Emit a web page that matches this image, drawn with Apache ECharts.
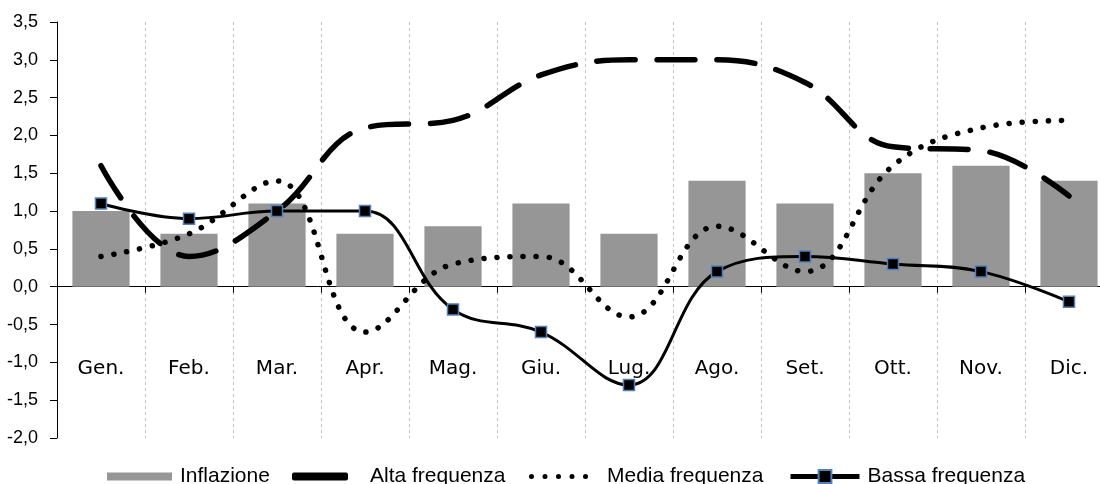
<!DOCTYPE html>
<html><head><meta charset="utf-8">
<script src="https://cdn.jsdelivr.net/npm/echarts@6/dist/echarts.min.js"></script>
<style>html,body{margin:0;padding:0;background:#fff}#c{width:1100px;height:484px}</style>
</head><body><div id="c"></div>
<script>
const categories = ['Gen.','Feb.','Mar.','Apr.','Mag.','Giu.','Lug.','Ago.','Set.','Ott.','Nov.','Dic.'];
const inflazione = [1.0, 0.7, 1.1, 0.7, 0.8, 1.1, 0.7, 1.4, 1.1, 1.5, 1.6, 1.4];
const altaFrequenza = [1.6, 0.4, 1.0, 2.1, 2.2, 2.8, 3.0, 3.0, 2.7, 1.85, 1.8, 1.2];
const mediaFrequenza = [0.4, 0.7, 1.4, -0.6, 0.3, 0.4, -0.4, 0.8, 0.2, 1.6, 2.1, 2.2];
const bassaFrequenza = [1.1, 0.9, 1.0, 1.0, -0.3, -0.6, -1.3, 0.2, 0.4, 0.3, 0.2, -0.2];
const seriesNames = ['Inflazione','Alta frequenza','Media frequenza','Bassa frequenza'];

function dots(n, step, r){
  let p = 'path://';
  for(let i=0;i<n;i++){const cx=r+i*step;p+=`M${cx-r},${r}a${r},${r} 0 1,0 ${2*r},0a${r},${r} 0 1,0 ${-2*r},0Z`;}
  return p;
}
const legTxt = {fontFamily:'Liberation Sans', fontSize:21, color:'#000'};
function leg(name, left, w, h, padL, extra){
  return Object.assign({data:[name], left:left, top:466, padding:0, itemWidth:w, itemHeight:h,
    selectedMode:false, textStyle:Object.assign({padding:[0,0,0,padL]}, legTxt)}, extra||{});
}

const chart = echarts.init(document.getElementById('c'), null, {renderer:'canvas'});
chart.setOption({
  animation:false,
  backgroundColor:'#fff',
  grid:{left:57, top:22, height:416, width:1056, containLabel:false, outerBoundsMode:'none'},
  legend:[
    leg(seriesNames[0], 107, 65, 8, 3, {icon:'rect'}),
    leg(seriesNames[1], 292, 56, 8, 17, {icon:'roundRect'}),
    leg(seriesNames[2], 529, 59, 5, 14, {icon:dots(5,13.5,2.5)}),
    leg(seriesNames[3], 788, 69, 16, 3, {lineStyle:{width:5}})
  ],
  xAxis:{
    type:'category', data:categories, boundaryGap:true,
    axisLine:{onZero:true, lineStyle:{color:'#000', width:1}},
    axisTick:{show:true, length:6, lineStyle:{color:'#000'}},
    axisLabel:{margin:-79, fontFamily:'DejaVu Sans', fontSize:20, color:'#000'},
    splitLine:{show:true, lineStyle:{color:'#c0c0c0', type:[3,3], width:1}}
  },
  yAxis:{
    type:'value', min:-2, max:3.5, interval:0.5,
    axisLine:{show:true, lineStyle:{color:'#000', width:1}},
    axisTick:{show:true, length:7, lineStyle:{color:'#000'}},
    axisLabel:{fontFamily:'Liberation Sans', fontSize:18, color:'#000', margin:19,
      formatter:v=>v.toFixed(1).replace('.',',')},
    splitLine:{show:false}
  },
  series:[
    {name:seriesNames[0], type:'bar', data:inflazione, barWidth:'65%',
     itemStyle:{color:'#969696'}, z:1},
    {name:seriesNames[1], type:'line', data:altaFrequenza, smooth:0.4, symbol:'none',
     lineStyle:{color:'#000', width:5.5, type:[38,22], cap:'round'}, itemStyle:{color:'#000'}, z:3},
    {name:seriesNames[2], type:'line', data:mediaFrequenza, smooth:0.4, symbol:'none',
     lineStyle:{color:'#000', width:5.5, type:[0.1,13], cap:'round'}, itemStyle:{color:'#000'}, z:4},
    {name:seriesNames[3], type:'line', data:bassaFrequenza, smooth:0.4, symbol:'rect', symbolSize:11,
     lineStyle:{color:'#000', width:3},
     itemStyle:{color:'#000', borderColor:'#4f81bd', borderWidth:1.5}, z:5}
  ]
});
</script></body></html>
